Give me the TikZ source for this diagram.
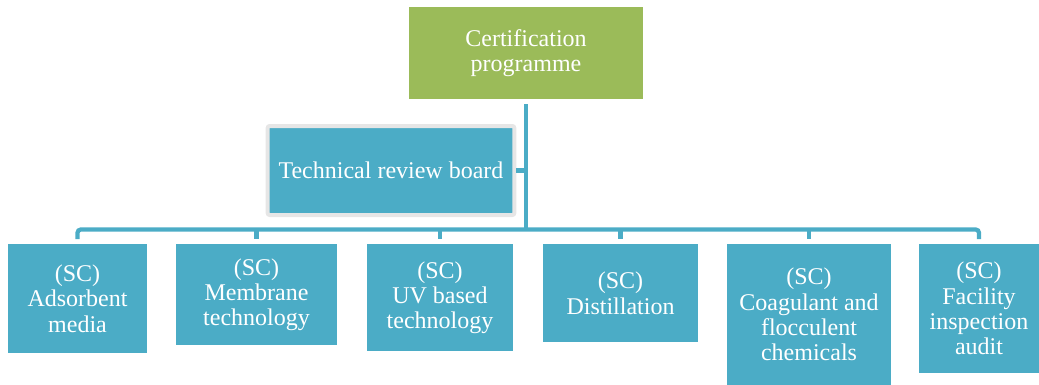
\documentclass[tikz,border=0pt]{standalone}
\usepackage{fontspec}
\setmainfont{Liberation Serif}
\usepackage{tikz}
\usetikzlibrary{positioning}

\definecolor{scblue}{HTML}{4BACC6}
\definecolor{scgreen}{HTML}{9BBB59}
\definecolor{scgray}{HTML}{E6E6E6}

\begin{document}
\begin{tikzpicture}[x=0.75pt, y=-0.75pt,
    box/.style={fill=scblue, text=white, align=center, inner xsep=2pt,
        font=\fontsize{18}{19}\selectfont},
    sc/.style={box, anchor=north},
    link/.style={draw=scblue, line width=3.2pt}]

    \useasboundingbox (0,0) rectangle (1039,385);

    % programma
    \node[box, fill=scgreen, minimum width=175.5pt, minimum height=69pt] (cert) at (526,53)
        {Certification\\programme};

    % board
    \node[box, draw=scgray, line width=3pt, rounded corners=1.5pt,
        minimum width=185pt, minimum height=66.75pt] (trb) at (391,170.5)
        {Technical review board};

    % comitati
    \node[sc, minimum width=104.25pt, minimum height=81.75pt] (c1) at (77.5,244)
        {(SC)\\Adsorbent\\media};
    \node[sc, minimum width=120.75pt, minimum height=75.75pt] (c2) at (256.5,244)
        {(SC)\\Membrane\\technology};
    \node[sc, minimum width=109.5pt, minimum height=80.25pt] (c3) at (440,244)
        {(SC)\\UV based\\technology};
    \node[sc, minimum width=116.25pt, minimum height=73.5pt] (c4) at (620.5,244)
        {(SC)\\Distillation};
    \node[sc, minimum width=123pt, minimum height=105.75pt] (c5) at (809,244)
        {(SC)\\Coagulant and\\flocculent\\chemicals};
    \node[sc, minimum width=90pt, minimum height=96.75pt] (c6) at (979,244)
        {(SC)\\Facility\\inspection\\audit};

    % collegamenti
    \coordinate (bus) at (526,229.5);
    \draw[link, shorten <=3.75pt] (cert.south) -- (cert.south |- bus);
    \draw[link] (trb.east) -- (trb.east -| cert.south);
    \draw[link, rounded corners=2.5pt, shorten <=3.75pt, shorten >=3.75pt]
        (c1.north) |- (bus) -| (c6.north);
    \foreach \c in {c2,c3,c4,c5}
        \draw[link, shorten >=3.75pt] (\c.north |- bus) -- (\c.north);

\end{tikzpicture}
\end{document}
